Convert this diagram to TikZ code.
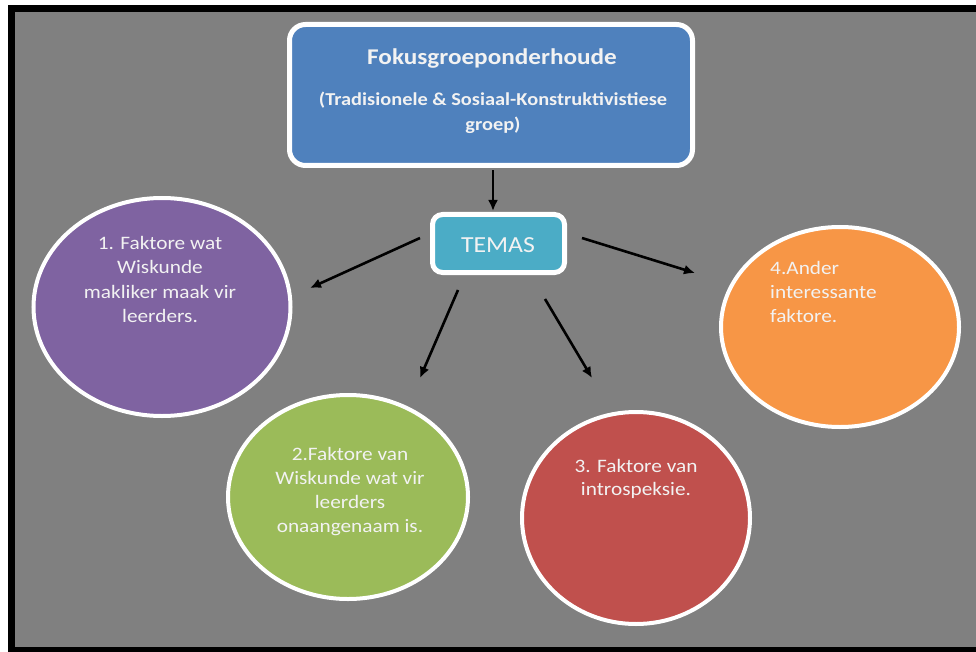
\documentclass[tikz,border=0pt]{standalone}
\usepackage{fontspec}
\setmainfont{Carlito}[FakeStretch=1.12]
\usetikzlibrary{shapes.geometric,arrows.meta,shadows}
\definecolor{bgray}{HTML}{808080}
\definecolor{cblue}{HTML}{4F81BD}
\definecolor{cteal}{HTML}{4BACC6}
\definecolor{cpurple}{HTML}{7F63A1}
\definecolor{cgreen}{HTML}{9BBB59}
\definecolor{cred}{HTML}{C0504D}
\definecolor{corange}{HTML}{F79646}
\definecolor{ctext}{HTML}{F2F2F2}
\tikzset{
  boxstyle/.style={rectangle, draw=white, line width=5pt, inner sep=0pt,
    drop shadow={opacity=0.35, shadow xshift=3pt, shadow yshift=-4pt}},
  blob/.style={ellipse, draw=white, line width=4pt, inner sep=0pt,
    drop shadow={opacity=0.3, shadow xshift=2pt, shadow yshift=-3pt}},
  lbl/.style={text=ctext, font=\fontsize{19}{24.5}\selectfont, inner sep=0pt, align=center},
  arr/.style={line width=2.6pt, black, -{Latex[length=11pt,width=10pt]}},
}
\begin{document}
\begin{tikzpicture}[x=1pt,y=-1pt]
\useasboundingbox (0,0) rectangle (976,652);
\clip (0,0) rectangle (976,652);
\fill[white] (0,0) rectangle (976,652);
\fill[black] (8,5) rectangle (990,670);
\fill[bgray] (15,12) rectangle (990,647);

% top box
\node[boxstyle, fill=cblue, rounded corners=16pt, minimum width=403pt, minimum height=141pt] (top) at (491,95) {};
\node[text=ctext, font=\bfseries\fontsize{22.5}{25}\selectfont, inner sep=0pt, anchor=base] (title) at (492,65) {Fokusgroeponderhoude};
\node[text=ctext, font=\bfseries\fontsize{18.2}{25}\selectfont, inner sep=0pt, align=center, anchor=north] (sub) at (493,91.5) {(Tradisionele \& Sosiaal-Konstruktivistiese\\groep)};

% TEMAS box
\node[boxstyle, fill=cteal, rounded corners=10pt, minimum width=132pt, minimum height=58pt] (temas) at (498.5,243.5) {};
\node[text=ctext, font=\fontsize{23}{25}\selectfont, inner sep=0pt, anchor=base] (temastext) at (498,252) {TEMAS};

% ellipses
\node[blob, fill=cpurple, minimum width=257pt, minimum height=218pt] (e1) at (162,307) {};
\node[blob, fill=cgreen, minimum width=240pt, minimum height=204pt] (e2) at (348,497) {};
\node[blob, fill=cred, minimum width=228pt, minimum height=212pt] (e3) at (636,518) {};
\node[blob, fill=corange, minimum width=238pt, minimum height=200pt] (e4) at (840,327) {};

% texts
\node[lbl, anchor=north] (t1) at (160,236) {1. Faktore wat\\Wiskunde\\makliker maak vir\\leerders.};
\node[lbl, anchor=north, font=\fontsize{19}{24}\selectfont] (t2) at (350,447) {2.Faktore van\\Wiskunde wat vir\\leerders\\onaangenaam is.};
\node[lbl, anchor=north, font=\fontsize{19}{23}\selectfont] (t3) at (636,459) {3. Faktore van\\introspeksie.};
\node[lbl, anchor=north west, align=left, font=\fontsize{19}{24}\selectfont] (t4) at (770,261) {4.Ander\\interessante\\faktore.};

% connector coordinates
\coordinate (a1s) at (420,238);
\coordinate (a1e) at (310,288);
\coordinate (a2s) at (458,290);
\coordinate (a2e) at (420,378);
\coordinate (a3s) at (545,299);
\coordinate (a3e) at (592,378);
\coordinate (a4s) at (582,238);
\coordinate (a4e) at (695,273);

\draw[arr] ([yshift=-2.5pt]top.south -| 493,0) -- ([yshift=1pt]temas.north -| 493,0);
\draw[arr] (a1s) -- (a1e);
\draw[arr] (a2s) -- (a2e);
\draw[arr] (a3s) -- (a3e);
\draw[arr] (a4s) -- (a4e);
\end{tikzpicture}
\end{document}
